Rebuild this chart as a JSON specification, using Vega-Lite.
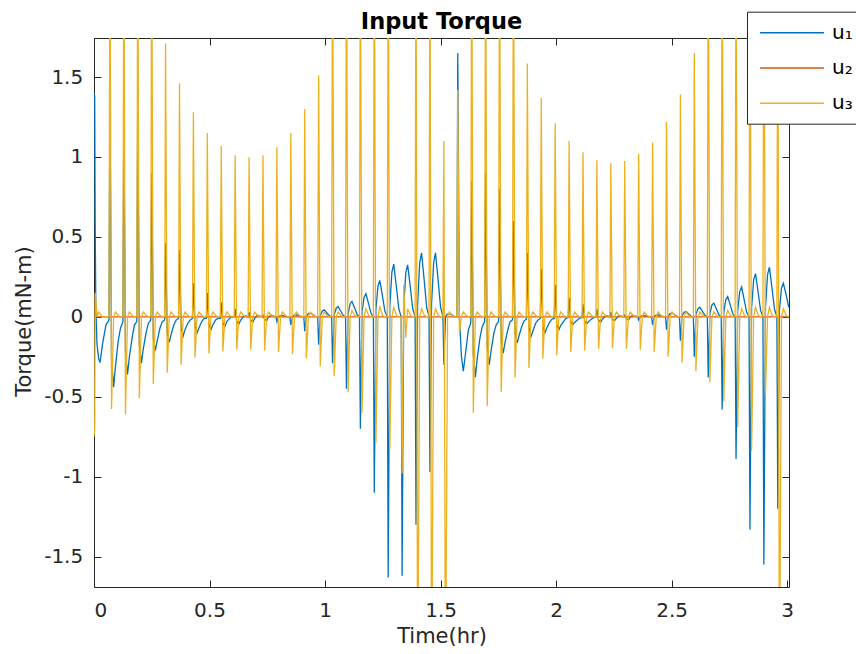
{
"$schema":"https://vega.github.io/schema/vega-lite/v6.json",
"width":695,"height":549,
"autosize":{"type":"none"},
"padding":{"left":94,"top":38,"right":67,"bottom":67},
"background":"white",
"title":{"text":"Input Torque","fontSize":22.5,"fontWeight":"bold","font":"DejaVu Sans","color":"#000000","anchor":"middle","frame":"group","baseline":"alphabetic","offset":10,"dy":50.5},
"config":{
"view":{"stroke":"#262626","strokeWidth":1},
"font":"DejaVu Sans",
"axis":{"grid":false,"domain":false,"tickColor":"#262626","tickSize":-7,"tickWidth":1,"labelColor":"#262626","labelFontSize":20,"labelFont":"DejaVu Sans","titleFont":"DejaVu Sans","titleFontSize":21,"titleFontWeight":"normal","titleColor":"#262626"}
},
"resolve":{"axis":{"x":"independent","y":"independent"}},
"layer":[
{
"data":{"values":[
{"t":0,"u1":1.4,"u2":0,"u3":-0.75},
{"t":0.003,"u1":1.38,"u3":-0.7},
{"t":0.005,"u1":0.6,"u3":0.15},
{"t":0.008,"u1":0.05,"u3":0.1},
{"t":0.013,"u1":-0.17,"u3":0},
{"t":0.02,"u1":-0.26,"u3":0.03},
{"t":0.026,"u1":-0.286,"u3":0.02},
{"t":0.038,"u1":-0.16,"u3":0},
{"t":0.052,"u1":-0.05,"u3":0},
{"t":0.0649,"u1":-0.02,"u3":0},
{"t":0.0689,"u1":1.38,"u3":2.5},
{"t":0.0759,"u1":-0.26,"u3":-0.577},
{"t":0.0849,"u1":-0.44,"u3":0},
{"t":0.0929,"u1":-0.31,"u3":0.03},
{"t":0.1049,"u1":-0.15,"u3":0.01},
{"t":0.1149,"u1":-0.07,"u3":0},
{"t":0.1251,"u1":-0.03,"u3":0},
{"t":0.1291,"u1":1.25,"u3":2.5},
{"t":0.1361,"u1":-0.22,"u3":-0.61},
{"t":0.1451,"u1":-0.36,"u3":0},
{"t":0.1531,"u1":-0.25,"u3":0.03},
{"t":0.1651,"u1":-0.13,"u3":0.01},
{"t":0.1751,"u1":-0.05,"u3":0},
{"t":0.1853,"u1":-0.03,"u3":0},
{"t":0.1893,"u1":1.34,"u3":2.5},
{"t":0.1963,"u1":-0.17,"u3":-0.51},
{"t":0.2053,"u1":-0.29,"u3":0},
{"t":0.2133,"u1":-0.2,"u3":0.03},
{"t":0.2253,"u1":-0.1,"u3":0.01},
{"t":0.2353,"u1":-0.04,"u3":0},
{"t":0.2456,"u1":-0.02,"u3":0},
{"t":0.2496,"u1":0.9,"u3":2.5},
{"t":0.2566,"u1":-0.13,"u3":-0.42},
{"t":0.2656,"u1":-0.21,"u3":0},
{"t":0.2736,"u1":-0.15,"u3":0.03},
{"t":0.2856,"u1":-0.07,"u3":0.01},
{"t":0.2956,"u1":-0.03,"u3":0},
{"t":0.3058,"u1":-0.02,"u3":0},
{"t":0.3098,"u1":0.46,"u3":1.71},
{"t":0.3168,"u1":-0.1,"u3":-0.35},
{"t":0.3258,"u1":-0.16,"u3":0},
{"t":0.3338,"u1":-0.11,"u3":0.03},
{"t":0.3458,"u1":-0.05,"u3":0.01},
{"t":0.3558,"u1":-0.02,"u3":0},
{"t":0.366,"u1":-0.01,"u3":0},
{"t":0.37,"u1":0.42,"u3":1.46},
{"t":0.377,"u1":-0.07,"u3":-0.3},
{"t":0.386,"u1":-0.12,"u3":0},
{"t":0.394,"u1":-0.08,"u3":0.03},
{"t":0.406,"u1":-0.04,"u3":0.01},
{"t":0.416,"u1":-0.02,"u3":0},
{"t":0.4262,"u1":-0.01,"u3":0},
{"t":0.4302,"u1":0.21,"u3":1.28},
{"t":0.4372,"u1":-0.06,"u3":-0.256},
{"t":0.4462,"u1":-0.1,"u3":0},
{"t":0.4542,"u1":-0.07,"u3":0.03},
{"t":0.4662,"u1":-0.03,"u3":0.01},
{"t":0.4762,"u1":-0.01,"u3":0},
{"t":0.4864,"u1":-0.01,"u3":0},
{"t":0.4904,"u1":0.15,"u3":1.15},
{"t":0.4974,"u1":-0.05,"u3":-0.23},
{"t":0.5064,"u1":-0.08,"u3":0},
{"t":0.5144,"u1":-0.05,"u3":0.03},
{"t":0.5264,"u1":-0.02,"u3":0.01},
{"t":0.5364,"u1":-0.01,"u3":0},
{"t":0.5467,"u1":-0.01,"u3":0},
{"t":0.5507,"u1":0.09,"u3":1.07},
{"t":0.5577,"u1":-0.04,"u3":-0.217},
{"t":0.5667,"u1":-0.06,"u3":0},
{"t":0.5747,"u1":-0.03,"u3":0.03},
{"t":0.5867,"u1":-0.01,"u3":0.01},
{"t":0.5967,"u1":0,"u3":0},
{"t":0.6069,"u1":0,"u3":0},
{"t":0.6109,"u1":0.05,"u3":1.01},
{"t":0.6179,"u1":-0.03,"u3":-0.206},
{"t":0.6269,"u1":-0.045,"u3":0},
{"t":0.6349,"u1":-0.02,"u3":0.03},
{"t":0.6469,"u1":0,"u3":0.01},
{"t":0.6569,"u1":0.005,"u3":0},
{"t":0.6671,"u1":0,"u3":0},
{"t":0.6711,"u1":0.03,"u3":0.996},
{"t":0.6781,"u1":-0.02,"u3":-0.206},
{"t":0.6871,"u1":-0.035,"u3":0},
{"t":0.6951,"u1":-0.01,"u3":0.03},
{"t":0.7071,"u1":0.01,"u3":0.01},
{"t":0.7171,"u1":0.005,"u3":0},
{"t":0.7273,"u1":0,"u3":0},
{"t":0.7313,"u1":0.01,"u3":1.01},
{"t":0.7383,"u1":-0.015,"u3":-0.21},
{"t":0.7473,"u1":-0.025,"u3":0},
{"t":0.7553,"u1":0,"u3":0.03},
{"t":0.7673,"u1":0.01,"u3":0.01},
{"t":0.7773,"u1":0.005,"u3":0},
{"t":0.7875,"u1":0,"u3":0},
{"t":0.7915,"u1":-0.03,"u3":1.06},
{"t":0.7985,"u1":0,"u3":-0.22},
{"t":0.8075,"u1":0.007,"u3":0},
{"t":0.8155,"u1":0.008,"u3":0.03},
{"t":0.8275,"u1":0.004,"u3":0.01},
{"t":0.8375,"u1":0,"u3":0},
{"t":0.8478,"u1":0,"u3":0},
{"t":0.8518,"u1":-0.05,"u3":1.15},
{"t":0.8588,"u1":0,"u3":-0.233},
{"t":0.8678,"u1":0.01,"u3":0},
{"t":0.8758,"u1":0.012,"u3":0.03},
{"t":0.8878,"u1":0.007,"u3":0.01},
{"t":0.8978,"u1":0.002,"u3":0},
{"t":0.908,"u1":0,"u3":0},
{"t":0.912,"u1":-0.09,"u3":1.3},
{"t":0.919,"u1":0.005,"u3":-0.26},
{"t":0.928,"u1":0.02,"u3":0},
{"t":0.936,"u1":0.023,"u3":0.03},
{"t":0.948,"u1":0.013,"u3":0.01},
{"t":0.958,"u1":0.003,"u3":0},
{"t":0.9682,"u1":0,"u3":0},
{"t":0.9722,"u1":-0.175,"u3":1.51},
{"t":0.9792,"u1":0.009,"u3":-0.31},
{"t":0.9882,"u1":0.037,"u3":0},
{"t":0.9962,"u1":0.044,"u3":0.03},
{"t":1.0082,"u1":0.024,"u3":0.01},
{"t":1.0182,"u1":0.007,"u3":0},
{"t":1.0284,"u1":0,"u3":0},
{"t":1.0324,"u1":-0.29,"u3":2.5},
{"t":1.0394,"u1":0.013,"u3":-0.37},
{"t":1.0484,"u1":0.054,"u3":0},
{"t":1.0564,"u1":0.064,"u3":0.03},
{"t":1.0684,"u1":0.035,"u3":0.01},
{"t":1.0784,"u1":0.01,"u3":0},
{"t":1.0886,"u1":0,"u3":0},
{"t":1.0926,"u1":-0.45,"u3":2.5},
{"t":1.0996,"u1":0.019,"u3":-0.47},
{"t":1.1086,"u1":0.082,"u3":0},
{"t":1.1166,"u1":0.096,"u3":0.04},
{"t":1.1286,"u1":0.053,"u3":0.01},
{"t":1.1386,"u1":0.014,"u3":0},
{"t":1.1489,"u1":0,"u3":0},
{"t":1.1529,"u1":-0.7,"u3":2.5},
{"t":1.1599,"u1":0.029,"u3":-0.6},
{"t":1.1689,"u1":0.122,"u3":0},
{"t":1.1769,"u1":0.144,"u3":0.05},
{"t":1.1889,"u1":0.079,"u3":0.01},
{"t":1.1989,"u1":0.022,"u3":0},
{"t":1.2091,"u1":0,"u3":0},
{"t":1.2131,"u1":-1.1,"u3":2.5},
{"t":1.2201,"u1":0.045,"u3":-0.79},
{"t":1.2291,"u1":0.193,"u3":0},
{"t":1.2371,"u1":0.227,"u3":0.06},
{"t":1.2491,"u1":0.125,"u3":0.01},
{"t":1.2591,"u1":0.034,"u3":0},
{"t":1.2693,"u1":0,"u3":0},
{"t":1.2733,"u1":-1.63,"u3":2.5},
{"t":1.2803,"u1":0.066,"u3":-0.83},
{"t":1.2893,"u1":0.28,"u3":0},
{"t":1.2973,"u1":0.33,"u3":0.06},
{"t":1.3093,"u1":0.18,"u3":0.01},
{"t":1.3193,"u1":0.05,"u3":0},
{"t":1.3295,"u1":0,"u3":0},
{"t":1.3335,"u1":-1.62,"u3":-0.98},
{"t":1.3405,"u1":0.065,"u3":0.2},
{"t":1.3495,"u1":0.276,"u3":-0.13},
{"t":1.3575,"u1":0.325,"u3":0.05},
{"t":1.3695,"u1":0.179,"u3":0.01},
{"t":1.3795,"u1":0.049,"u3":0},
{"t":1.3897,"u1":0,"u3":0},
{"t":1.3937,"u1":-1.3,"u3":2.5},
{"t":1.4007,"u1":0.08,"u3":-2.5},
{"t":1.4097,"u1":0.34,"u3":0},
{"t":1.4177,"u1":0.4,"u3":0.05},
{"t":1.4297,"u1":0.22,"u3":0.01},
{"t":1.4397,"u1":0.06,"u3":0},
{"t":1.45,"u1":0,"u3":0},
{"t":1.454,"u1":-0.97,"u3":2.5},
{"t":1.461,"u1":0.08,"u3":-2.5},
{"t":1.47,"u1":0.34,"u3":0},
{"t":1.478,"u1":0.4,"u3":0.05},
{"t":1.49,"u1":0.22,"u3":0.01},
{"t":1.5,"u1":0.06,"u3":0},
{"t":1.5102,"u1":0,"u3":0},
{"t":1.5142,"u1":-0.3,"u3":1.1},
{"t":1.5212,"u1":0.004,"u3":-2.5},
{"t":1.5302,"u1":0.017,"u3":0},
{"t":1.5382,"u1":0.02,"u3":0.03},
{"t":1.5502,"u1":0.011,"u3":0.01},
{"t":1.5602,"u1":0.003,"u3":0},
{"t":1.5704,"u1":0,"u3":0},
{"t":1.5744,"u1":1.65,"u3":1.42},
{"t":1.5814,"u1":0,"u3":-0.1},
{"t":1.5904,"u1":-0.25,"u3":0},
{"t":1.5984,"u1":-0.34,"u3":0.03},
{"t":1.6104,"u1":-0.2,"u3":0.01},
{"t":1.6204,"u1":-0.08,"u3":0},
{"t":1.6306,"u1":-0.04,"u3":0},
{"t":1.6346,"u1":0.85,"u3":2.5},
{"t":1.6416,"u1":-0.23,"u3":-0.6},
{"t":1.6506,"u1":-0.377,"u3":0},
{"t":1.6586,"u1":-0.26,"u3":0.03},
{"t":1.6706,"u1":-0.13,"u3":0.01},
{"t":1.6806,"u1":-0.06,"u3":0},
{"t":1.6908,"u1":-0.03,"u3":0},
{"t":1.6948,"u1":0.9,"u3":2.5},
{"t":1.7018,"u1":-0.18,"u3":-0.56},
{"t":1.7108,"u1":-0.3,"u3":0},
{"t":1.7188,"u1":-0.21,"u3":0.03},
{"t":1.7308,"u1":-0.1,"u3":0.01},
{"t":1.7408,"u1":-0.05,"u3":0},
{"t":1.7511,"u1":-0.03,"u3":0},
{"t":1.7551,"u1":0.8,"u3":2.5},
{"t":1.7621,"u1":-0.14,"u3":-0.47},
{"t":1.7711,"u1":-0.227,"u3":0},
{"t":1.7791,"u1":-0.16,"u3":0.03},
{"t":1.7911,"u1":-0.08,"u3":0.01},
{"t":1.8011,"u1":-0.03,"u3":0},
{"t":1.8113,"u1":-0.02,"u3":0},
{"t":1.8153,"u1":0.6,"u3":2.5},
{"t":1.8223,"u1":-0.1,"u3":-0.38},
{"t":1.8313,"u1":-0.165,"u3":0},
{"t":1.8393,"u1":-0.12,"u3":0.03},
{"t":1.8513,"u1":-0.06,"u3":0.01},
{"t":1.8613,"u1":-0.025,"u3":0},
{"t":1.8715,"u1":-0.015,"u3":0},
{"t":1.8755,"u1":0.4,"u3":1.585},
{"t":1.8825,"u1":-0.07,"u3":-0.32},
{"t":1.8915,"u1":-0.123,"u3":0},
{"t":1.8995,"u1":-0.09,"u3":0.03},
{"t":1.9115,"u1":-0.04,"u3":0.01},
{"t":1.9215,"u1":-0.02,"u3":0},
{"t":1.9317,"u1":-0.01,"u3":0},
{"t":1.9357,"u1":0.3,"u3":1.37},
{"t":1.9427,"u1":-0.06,"u3":-0.26},
{"t":1.9517,"u1":-0.1,"u3":0},
{"t":1.9597,"u1":-0.07,"u3":0.03},
{"t":1.9717,"u1":-0.035,"u3":0.01},
{"t":1.9817,"u1":-0.015,"u3":0},
{"t":1.9919,"u1":-0.01,"u3":0},
{"t":1.9959,"u1":0.2,"u3":1.21},
{"t":2.0029,"u1":-0.05,"u3":-0.24},
{"t":2.0119,"u1":-0.08,"u3":0},
{"t":2.0199,"u1":-0.055,"u3":0.03},
{"t":2.0319,"u1":-0.03,"u3":0.01},
{"t":2.0419,"u1":-0.01,"u3":0},
{"t":2.0522,"u1":-0.005,"u3":0},
{"t":2.0562,"u1":0.12,"u3":1.1},
{"t":2.0632,"u1":-0.03,"u3":-0.22},
{"t":2.0722,"u1":-0.05,"u3":0},
{"t":2.0802,"u1":-0.035,"u3":0.03},
{"t":2.0922,"u1":-0.02,"u3":0.01},
{"t":2.1022,"u1":-0.008,"u3":0},
{"t":2.1124,"u1":-0.005,"u3":0},
{"t":2.1164,"u1":0.08,"u3":1.03},
{"t":2.1234,"u1":-0.027,"u3":-0.21},
{"t":2.1324,"u1":-0.045,"u3":0},
{"t":2.1404,"u1":-0.03,"u3":0.03},
{"t":2.1524,"u1":-0.015,"u3":0.01},
{"t":2.1624,"u1":-0.005,"u3":0},
{"t":2.1726,"u1":0,"u3":0},
{"t":2.1766,"u1":0.05,"u3":0.98},
{"t":2.1836,"u1":-0.02,"u3":-0.2},
{"t":2.1926,"u1":-0.035,"u3":0},
{"t":2.2006,"u1":-0.015,"u3":0.03},
{"t":2.2126,"u1":0.005,"u3":0.01},
{"t":2.2226,"u1":0.005,"u3":0},
{"t":2.2328,"u1":0,"u3":0},
{"t":2.2368,"u1":0.03,"u3":0.96},
{"t":2.2438,"u1":-0.015,"u3":-0.196},
{"t":2.2528,"u1":-0.025,"u3":0},
{"t":2.2608,"u1":-0.01,"u3":0.03},
{"t":2.2728,"u1":0.008,"u3":0.01},
{"t":2.2828,"u1":0.005,"u3":0},
{"t":2.293,"u1":0,"u3":0},
{"t":2.297,"u1":0.01,"u3":0.975},
{"t":2.304,"u1":-0.01,"u3":-0.2},
{"t":2.313,"u1":-0.02,"u3":0},
{"t":2.321,"u1":0,"u3":0.03},
{"t":2.333,"u1":0.008,"u3":0.01},
{"t":2.343,"u1":0.004,"u3":0},
{"t":2.3533,"u1":0,"u3":0},
{"t":2.3573,"u1":-0.02,"u3":1.02},
{"t":2.3643,"u1":0,"u3":-0.206},
{"t":2.3733,"u1":0.007,"u3":0},
{"t":2.3813,"u1":0.008,"u3":0.03},
{"t":2.3933,"u1":0.004,"u3":0.01},
{"t":2.4033,"u1":0.001,"u3":0},
{"t":2.4135,"u1":0,"u3":0},
{"t":2.4175,"u1":-0.05,"u3":1.09},
{"t":2.4245,"u1":0.002,"u3":-0.22},
{"t":2.4335,"u1":0.01,"u3":0},
{"t":2.4415,"u1":0.012,"u3":0.03},
{"t":2.4535,"u1":0.007,"u3":0.01},
{"t":2.4635,"u1":0.002,"u3":0},
{"t":2.4737,"u1":0,"u3":0},
{"t":2.4777,"u1":-0.08,"u3":1.22},
{"t":2.4847,"u1":0.005,"u3":-0.25},
{"t":2.4937,"u1":0.02,"u3":0},
{"t":2.5017,"u1":0.023,"u3":0.03},
{"t":2.5137,"u1":0.013,"u3":0.01},
{"t":2.5237,"u1":0.003,"u3":0},
{"t":2.5339,"u1":0,"u3":0},
{"t":2.5379,"u1":-0.15,"u3":1.39},
{"t":2.5449,"u1":0.007,"u3":-0.285},
{"t":2.5539,"u1":0.028,"u3":0},
{"t":2.5619,"u1":0.033,"u3":0.03},
{"t":2.5739,"u1":0.018,"u3":0.01},
{"t":2.5839,"u1":0.005,"u3":0},
{"t":2.5941,"u1":0,"u3":0},
{"t":2.5981,"u1":-0.25,"u3":1.65},
{"t":2.6051,"u1":0.012,"u3":-0.34},
{"t":2.6141,"u1":0.051,"u3":0},
{"t":2.6221,"u1":0.06,"u3":0.03},
{"t":2.6341,"u1":0.033,"u3":0.01},
{"t":2.6441,"u1":0.009,"u3":0},
{"t":2.6544,"u1":0,"u3":0},
{"t":2.6584,"u1":-0.38,"u3":2.5},
{"t":2.6654,"u1":0.017,"u3":-0.41},
{"t":2.6744,"u1":0.073,"u3":0},
{"t":2.6824,"u1":0.086,"u3":0.03},
{"t":2.6944,"u1":0.047,"u3":0.01},
{"t":2.7044,"u1":0.013,"u3":0},
{"t":2.7146,"u1":0,"u3":0},
{"t":2.7186,"u1":-0.58,"u3":2.5},
{"t":2.7256,"u1":0.025,"u3":-0.53},
{"t":2.7346,"u1":0.108,"u3":0},
{"t":2.7426,"u1":0.127,"u3":0.04},
{"t":2.7546,"u1":0.07,"u3":0.01},
{"t":2.7646,"u1":0.019,"u3":0},
{"t":2.7748,"u1":0,"u3":0},
{"t":2.7788,"u1":-0.89,"u3":2.5},
{"t":2.7858,"u1":0.037,"u3":-0.69},
{"t":2.7948,"u1":0.158,"u3":0},
{"t":2.8028,"u1":0.186,"u3":0.05},
{"t":2.8148,"u1":0.102,"u3":0.01},
{"t":2.8248,"u1":0.028,"u3":0},
{"t":2.835,"u1":0,"u3":0},
{"t":2.839,"u1":-1.33,"u3":2.5},
{"t":2.846,"u1":0.054,"u3":-0.84},
{"t":2.855,"u1":0.23,"u3":0},
{"t":2.863,"u1":0.27,"u3":0.06},
{"t":2.875,"u1":0.149,"u3":0.01},
{"t":2.885,"u1":0.04,"u3":0},
{"t":2.8952,"u1":0,"u3":0},
{"t":2.8992,"u1":-1.55,"u3":2.5},
{"t":2.9062,"u1":0.062,"u3":-0.48},
{"t":2.9152,"u1":0.264,"u3":0},
{"t":2.9232,"u1":0.31,"u3":0.06},
{"t":2.9352,"u1":0.171,"u3":0.01},
{"t":2.9452,"u1":0.047,"u3":0},
{"t":2.9555,"u1":0,"u3":0},
{"t":2.9595,"u1":-1.2,"u3":2.5},
{"t":2.9665,"u1":0.042,"u3":-2.5},
{"t":2.9755,"u1":0.179,"u3":0},
{"t":2.9835,"u1":0.21,"u3":0.05},
{"t":2.9955,"u1":0.14,"u3":0.01},
{"t":3.0055,"u1":0.07,"u3":0},
{"t":3.008,"u1":0.06,"u2":0,"u3":0}
]},
"transform":[{"fold":["u1","u2","u3"],"as":["s","v"]},{"filter":"isValid(datum.v)"}],
"mark":{"type":"line","clip":true,"strokeWidth":1.3},
"encoding":{
"x":{"field":"t","type":"quantitative","scale":{"domain":[0,3.008],"nice":false,"zero":false},"axis":{"orient":"bottom","values":[0,0.5,1,1.5,2,2.5,3],"labelExpr":"toString(datum.value)","labelPadding":20.5,"title":"Time(hr)","titleY":55,"titleBaseline":"alphabetic"}},
"y":{"field":"v","type":"quantitative","scale":{"domain":[-1.69,1.744],"nice":false,"zero":false},"axis":{"orient":"left","values":[-1.5,-1,-0.5,0,0.5,1,1.5],"labelExpr":"toString(datum.value)","labelPadding":18.3,"title":"Torque(mN-m)","titleX":-64,"titleY":283,"titleBaseline":"alphabetic"}},
"color":{"field":"s","type":"nominal","scale":{"domain":["u1","u2","u3"],"range":["#0072BD","#D95319","#EDB120"]},"legend":{"orient":"none","legendX":653,"legendY":-26.3,"title":null,"symbolType":"M-3.2,0H3.2","symbolSize":400,"symbolStrokeWidth":1.5,"symbolOffset":24,"labelOffset":29,"padding":10,"rowPadding":14.3,"strokeColor":"#262626","fillColor":"white","labelFontSize":20,"labelFont":"DejaVu Sans","labelColor":"#000000","labelExpr":"datum.label == 'u1' ? 'u₁' : datum.label == 'u2' ? 'u₂' : 'u₃'","direction":"vertical","cornerRadius":0}}
}
},
{
"data":{"values":[{"t":0,"v":0}]},
"mark":{"type":"point","opacity":0},
"encoding":{
"x":{"field":"t","type":"quantitative","scale":{"domain":[0,3.008],"nice":false,"zero":false},"axis":{"orient":"top","values":[0,0.5,1,1.5,2,2.5,3],"labels":false,"title":null}},
"y":{"field":"v","type":"quantitative","scale":{"domain":[-1.69,1.744],"nice":false,"zero":false},"axis":{"orient":"right","values":[-1.5,-1,-0.5,0,0.5,1,1.5],"labels":false,"title":null}}
}
}
]
}
